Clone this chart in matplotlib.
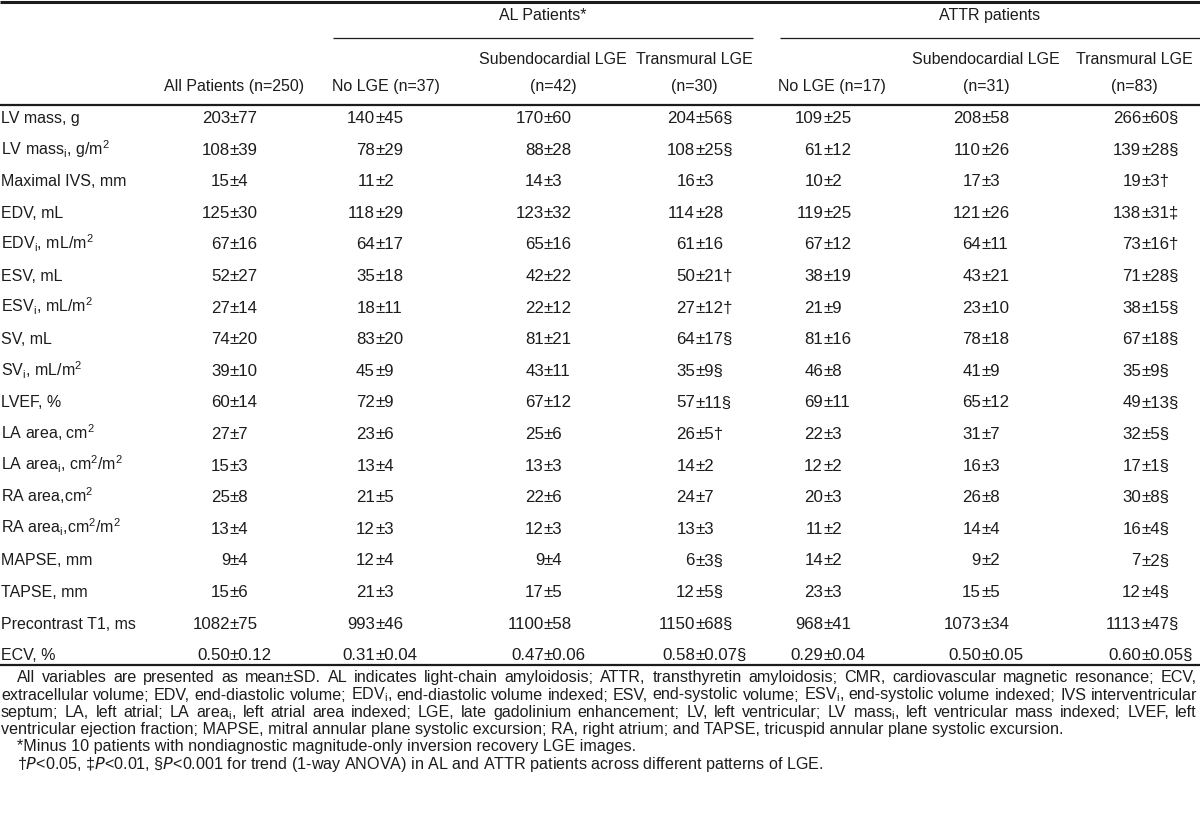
import matplotlib
matplotlib.use("Agg")
import matplotlib.pyplot as plt

plt.rcParams['font.family'] = ['Liberation Sans Narrow', 'Liberation Sans', 'DejaVu Sans']
plt.rcParams['mathtext.fontset'] = 'custom'
plt.rcParams['mathtext.rm'] = 'Liberation Sans Narrow'
plt.rcParams['mathtext.it'] = 'Liberation Sans Narrow:italic'

INK = '#1c1c1c'
FS = 12.2    # numbers
FSL = 11.5   # row labels / headers
FS2 = 11.6   # footnotes

row_labels = [
    'LV mass, g',
    r'LV mass$_\mathregular{i}$, g/m$^\mathregular{2}$',
    'Maximal IVS, mm',
    'EDV, mL',
    r'EDV$_\mathregular{i}$, mL/m$^\mathregular{2}$',
    'ESV, mL',
    r'ESV$_\mathregular{i}$, mL/m$^\mathregular{2}$',
    'SV, mL',
    r'SV$_\mathregular{i}$, mL/m$^\mathregular{2}$',
    'LVEF, %',
    r'LA area, cm$^\mathregular{2}$',
    r'LA area$_\mathregular{i}$, cm$^\mathregular{2}$/m$^\mathregular{2}$',
    r'RA area,cm$^\mathregular{2}$',
    r'RA area$_\mathregular{i}$,cm$^\mathregular{2}$/m$^\mathregular{2}$',
    'MAPSE, mm',
    'TAPSE, mm',
    'Precontrast T1, ms',
    'ECV, %',
]

all_patients = ['203±77', '108±39', '15±4', '125±30', '67±16', '52±27', '27±14', '74±20', '39±10',
                '60±14', '27±7', '15±3', '25±8', '13±4', '9±4', '15±6', '1082±75', '0.50±0.12']
al_no_lge = ['140±45', '78±29', '11±2', '118±29', '64±17', '35±18', '18±11', '83±20', '45±9',
             '72±9', '23±6', '13±4', '21±5', '12±3', '12±4', '21±3', '993±46', '0.31±0.04']
al_subendo = ['170±60', '88±28', '14±3', '123±32', '65±16', '42±22', '22±12', '81±21', '43±11',
              '67±12', '25±6', '13±3', '22±6', '12±3', '9±4', '17±5', '1100±58', '0.47±0.06']
al_transmural = ['204±56§', '108±25§', '16±3', '114±28', '61±16', '50±21†', '27±12†', '64±17§', '35±9§',
                 '57±11§', '26±5†', '14±2', '24±7', '13±3', '6±3§', '12±5§', '1150±68§', '0.58±0.07§']
attr_no_lge = ['109±25', '61±12', '10±2', '119±25', '67±12', '38±19', '21±9', '81±16', '46±8',
               '69±11', '22±3', '12±2', '20±3', '11±2', '14±2', '23±3', '968±41', '0.29±0.04']
attr_subendo = ['208±58', '110±26', '17±3', '121±26', '64±11', '43±21', '23±10', '78±18', '41±9',
                '65±12', '31±7', '16±3', '26±8', '14±4', '9±2', '15±5', '1073±34', '0.50±0.05']
attr_transmural = ['266±60§', '139±28§', '19±3†', '138±31‡', '73±16†', '71±28§', '38±15§', '67±18§', '35±9§',
                   '49±13§', '32±5§', '17±1§', '30±8§', '16±4§', '7±2§', '12±4§', '1113±47§', '0.60±0.05§']

group_titles = ['AL Patients*', 'ATTR patients']
col_head_top = ['', '', 'Subendocardial LGE', 'Transmural LGE', '', 'Subendocardial LGE', 'Transmural LGE']
col_head_bottom = ['All Patients (n=250)', 'No LGE (n=37)', '(n=42)', '(n=30)',
                   'No LGE (n=17)', '(n=31)', '(n=83)']

footnote_par = [
    'All variables are presented as mean±SD. AL indicates light-chain amyloidosis; ATTR, transthyretin '
    'amyloidosis; CMR, cardiovascular magnetic resonance; ECV,',
    r'extracellular volume; EDV, end-diastolic volume; EDV$_\mathregular{i}$, end-diastolic volume indexed; '
    r'ESV, end-systolic volume; ESV$_\mathregular{i}$, end-systolic volume indexed; IVS interventricular',
    r'septum; LA, left atrial; LA area$_\mathregular{i}$, left atrial area indexed; LGE, late gadolinium '
    r'enhancement; LV, left ventricular; LV mass$_\mathregular{i}$, left ventricular mass indexed; LVEF, left',
    'ventricular ejection fraction; MAPSE, mitral annular plane systolic excursion; RA, right atrium; '
    'and TAPSE, tricuspid annular plane systolic excursion.',
]
footnote_star = '*Minus 10 patients with nondiagnostic magnitude-only inversion recovery LGE images.'
footnote_p = (r'†$\mathit{P}$<0.05, ‡$\mathit{P}$<0.01, §$\mathit{P}$<0.001 for trend (1-way ANOVA) '
              'in AL and ATTR patients across different patterns of LGE.')

columns = [all_patients, al_no_lge, al_subendo, al_transmural,
           attr_no_lge, attr_subendo, attr_transmural]

# layout (pixels)
pm_x = [234, 379, 548, 699, 827, 985, 1145]      # where the ± sits in each column
head_x = [234, 386, 553, 694, 832, 986, 1134]
row_y0, row_dy = 123, 31.6

fig = plt.figure(figsize=(12, 8.24), dpi=100)
ax = fig.add_axes([0, 0, 1, 1])
ax.set_xlim(0, 1200)
ax.set_ylim(824, 0)
ax.axis('off')


def put_value(x, y, s):
    left, right = s.split('±')
    ax.text(x - 4, y, left, ha='right', va='baseline', fontsize=FS, color=INK)
    ax.text(x - 4, y, '±' + right, ha='left', va='baseline', fontsize=FS, color=INK)


def justify(line, x0, x1, y):
    words = line.split(' ')
    texts = [ax.text(0, y, w, ha='left', va='baseline', fontsize=FS2, color=INK) for w in words]
    r = fig.canvas.get_renderer()
    widths = [t.get_window_extent(r).width for t in texts]
    gap = (x1 - x0 - sum(widths)) / (len(words) - 1)
    x = x0
    for t, w in zip(texts, widths):
        t.set_x(x)
        x += w + gap


# rules
ax.plot([0, 1200], [1.5, 1.5], color=INK, lw=2.2, solid_capstyle='butt')
ax.plot([333, 753], [38, 38], color=INK, lw=0.9, solid_capstyle='butt')
ax.plot([780, 1200], [38, 38], color=INK, lw=0.9, solid_capstyle='butt')
ax.plot([0, 1200], [105, 105], color=INK, lw=1.6, solid_capstyle='butt')
ax.plot([0, 1200], [665, 665], color=INK, lw=1.6, solid_capstyle='butt')

# headers
ax.text(543, 20, group_titles[0], ha='center', va='baseline', fontsize=FSL, color=INK)
ax.text(990, 20, group_titles[1], ha='center', va='baseline', fontsize=FSL, color=INK)
for x, top, bot in zip(head_x, col_head_top, col_head_bottom):
    if top:
        ax.text(x, 64, top, ha='center', va='baseline', fontsize=FSL, color=INK)
    ax.text(x, 91, bot, ha='center', va='baseline', fontsize=FSL, color=INK)

# body
for i, lab in enumerate(row_labels):
    y = row_y0 + i * row_dy
    ax.text(1, y, lab, ha='left', va='baseline', fontsize=FSL, color=INK)
    for x, col in zip(pm_x, columns):
        put_value(x, y, col[i])

# footnotes
foot_y = [682, 699.5, 716.8, 734, 751.3, 768.5]
justify(footnote_par[0], 17, 1197, foot_y[0])
justify(footnote_par[1], 1, 1197, foot_y[1])
justify(footnote_par[2], 1, 1197, foot_y[2])
ax.text(1, foot_y[3], footnote_par[3], ha='left', va='baseline', fontsize=FS2, color=INK)
ax.text(17, foot_y[4], footnote_star, ha='left', va='baseline', fontsize=FS2, color=INK)
ax.text(17, foot_y[5], footnote_p, ha='left', va='baseline', fontsize=FS2, color=INK)

fig.savefig('out.png', dpi=100)
